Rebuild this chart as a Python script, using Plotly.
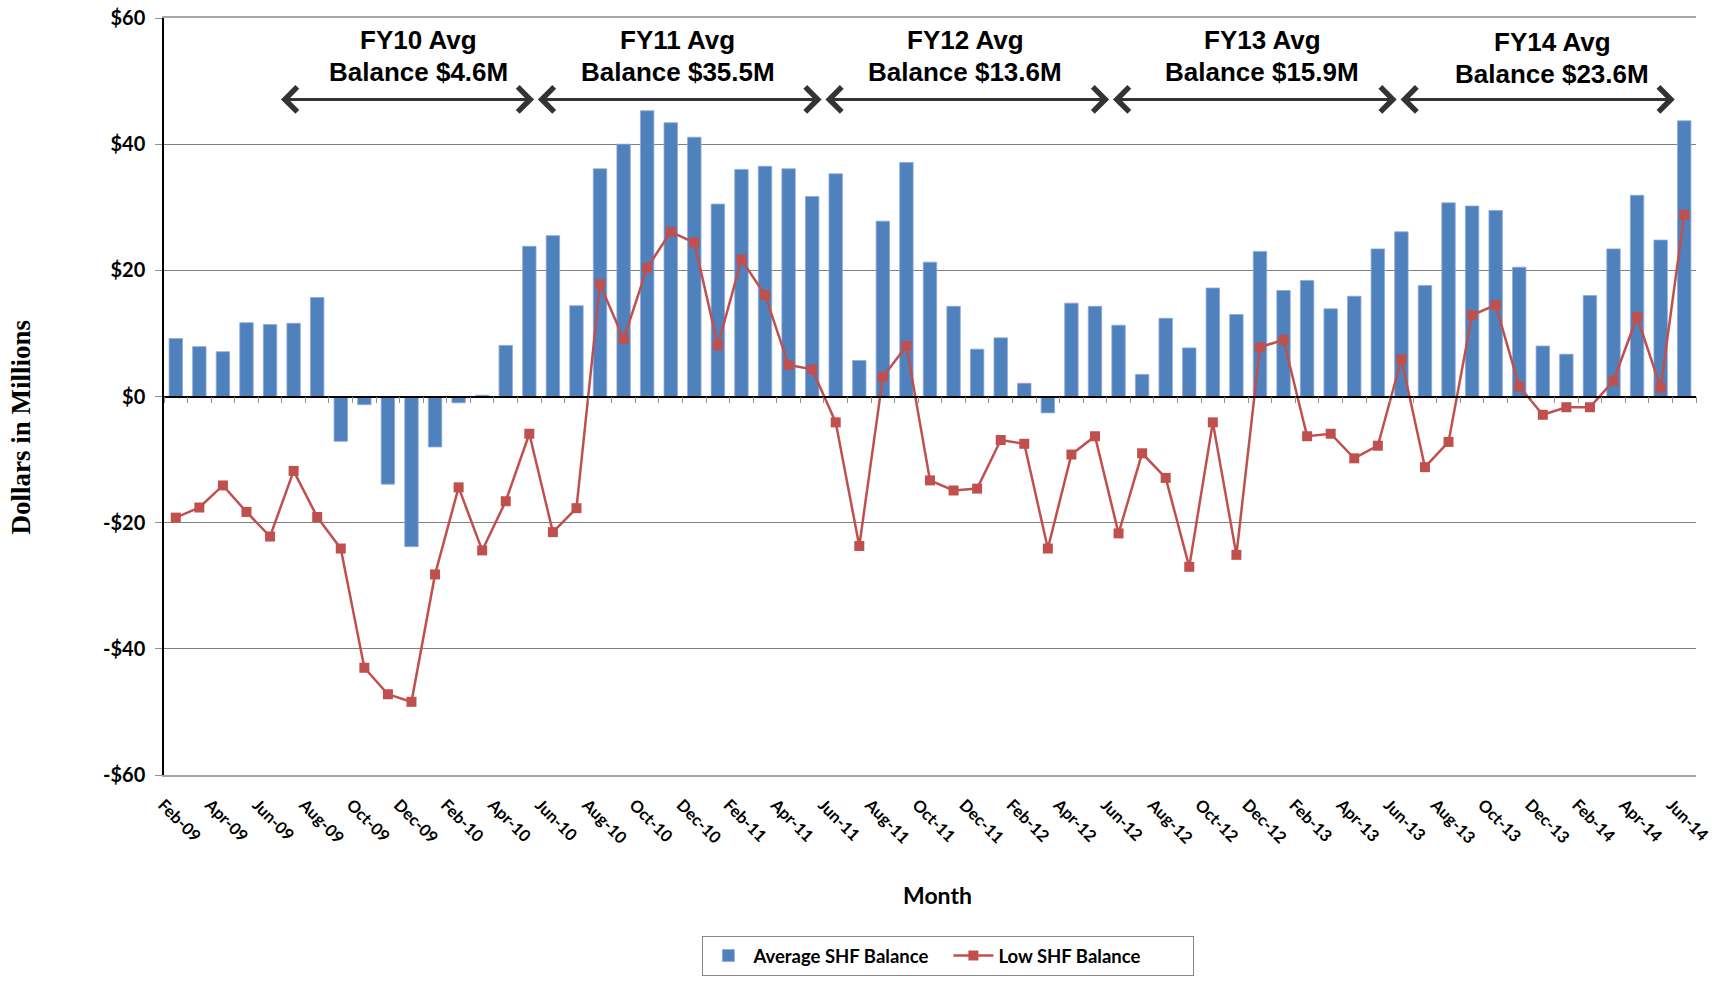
import plotly.graph_objects as go

months = ["Feb-09","Mar-09","Apr-09","May-09","Jun-09","Jul-09","Aug-09","Sep-09","Oct-09","Nov-09","Dec-09",
          "Jan-10","Feb-10","Mar-10","Apr-10","May-10","Jun-10","Jul-10","Aug-10","Sep-10","Oct-10","Nov-10","Dec-10",
          "Jan-11","Feb-11","Mar-11","Apr-11","May-11","Jun-11","Jul-11","Aug-11","Sep-11","Oct-11","Nov-11","Dec-11",
          "Jan-12","Feb-12","Mar-12","Apr-12","May-12","Jun-12","Jul-12","Aug-12","Sep-12","Oct-12","Nov-12","Dec-12",
          "Jan-13","Feb-13","Mar-13","Apr-13","May-13","Jun-13","Jul-13","Aug-13","Sep-13","Oct-13","Nov-13","Dec-13",
          "Jan-14","Feb-14","Mar-14","Apr-14","May-14","Jun-14"]

avg_balance = [9.2, 7.9, 7.1, 11.7, 11.4, 11.6, 15.7, -7.1, -1.3, -13.9, -23.8,
               -8.0, -1.0, 0.2, 8.1, 23.8, 25.5, 14.4, 36.1, 40.0, 45.3, 43.4, 41.1,
               30.5, 36.0, 36.5, 36.1, 31.7, 35.3, 5.7, 27.8, 37.1, 21.3, 14.3, 7.5,
               9.3, 2.1, -2.6, 14.8, 14.3, 11.3, 3.5, 12.4, 7.7, 17.2, 13.0, 23.0,
               16.8, 18.4, 13.9, 15.9, 23.4, 26.1, 17.6, 30.7, 30.2, 29.5, 20.5, 8.0,
               6.7, 16.0, 23.4, 31.9, 24.8, 43.7]

low_balance = [-19.2, -17.6, -14.1, -18.3, -22.2, -11.8, -19.1, -24.1, -43.0, -47.2, -48.4,
               -28.2, -14.4, -24.4, -16.6, -5.9, -21.5, -17.7, 17.8, 9.1, 20.4, 26.1, 24.4,
               8.1, 21.7, 16.1, 5.0, 4.3, -4.1, -23.7, 3.1, 8.0, -13.3, -14.9, -14.6,
               -6.9, -7.5, -24.1, -9.2, -6.3, -21.7, -9.0, -12.9, -27.0, -4.1, -25.1, 7.8,
               9.0, -6.3, -5.9, -9.8, -7.8, 5.9, -11.2, -7.2, 12.9, 14.5, 1.6, -2.9,
               -1.7, -1.7, 2.5, 12.6, 1.4, 28.8]

fy_line1 = ["FY10 Avg", "FY11 Avg", "FY12 Avg", "FY13 Avg", "FY14 Avg"]
fy_line2 = ["Balance $4.6M", "Balance $35.5M", "Balance $13.6M", "Balance $15.9M", "Balance $23.6M"]
fy_label_x = [10.3, 21.3, 33.5, 46.1, 58.4]
fy_label_dy = [0, 0, 0, 0, -0.3]
fy_arrow_start = [4.4, 15.3, 27.5, 39.7, 51.9]
fy_arrow_end = [15.2, 27.4, 39.6, 51.8, 63.6]

y_ticks = [-60, -40, -20, 0, 20, 40, 60]
y_ticktext = ["-$60", "-$40", "-$20", "$0", "$20", "$40", "$60"]

idx = list(range(len(months)))

CAL = "Lato, Carlito, Calibri, sans-serif"
SANS = "Liberation Sans, Arial, sans-serif"

fig = go.Figure()
fig.add_trace(go.Bar(x=idx, y=avg_balance, name="Average SHF Balance",
                     marker=dict(color="#4F81BD", line=dict(color="#8EAADB", width=0.8)),
                     xaxis="x", yaxis="y"))
fig.add_trace(go.Scatter(x=idx, y=low_balance, name="Low SHF Balance", mode="lines+markers",
                         line=dict(color="#C0504D", width=2.5),
                         marker=dict(symbol="square", size=10, color="#C0504D"),
                         xaxis="x2", yaxis="y"))

for l1, l2, lx, dy, a0, a1 in zip(fy_line1, fy_line2, fy_label_x, fy_label_dy, fy_arrow_start, fy_arrow_end):
    fig.add_annotation(x=lx, y=56.5 + dy, xref="x", yref="y", text=l1, showarrow=False,
                       font=dict(family=SANS, size=26, color="black", weight="bold"),
                       xanchor="center", yanchor="middle")
    fig.add_annotation(x=lx, y=51.5 + dy, xref="x", yref="y", text=l2, showarrow=False,
                       font=dict(family=SANS, size=26, color="black", weight="bold"),
                       xanchor="center", yanchor="middle")
    fig.add_annotation(x=a1, y=47.1, ax=a0, ay=47.1, xref="x", yref="y", axref="x", ayref="y",
                       text="", showarrow=True, arrowhead=4, startarrowhead=4,
                       arrowside="end+start", arrowwidth=3, arrowsize=1.6, startarrowsize=1.6,
                       arrowcolor="#333333", standoff=0, startstandoff=0)

fig.add_annotation(x=0.5046, y=-0.1585, xref="paper", yref="paper", text="Month", showarrow=False,
                   font=dict(family=CAL, size=23, color="black", weight="bold"),
                   xanchor="center", yanchor="middle")
fig.add_annotation(x=-0.0935, y=0.46, xref="paper", yref="paper", text="Dollars in Millions",
                   showarrow=False, textangle=-90,
                   font=dict(family="Liberation Serif, Times New Roman, serif", size=27, color="black", weight="bold"),
                   xanchor="center", yanchor="middle")

fig.update_layout(
    width=1716, height=982,
    margin=dict(l=164, r=20, t=18, b=207, autoexpand=False),
    paper_bgcolor="white", plot_bgcolor="white",
    bargap=0.43,
    showlegend=True,
    legend=dict(orientation="h", x=0.512, y=-0.2127, xanchor="center", yanchor="top",
                bordercolor="#888888", borderwidth=1, bgcolor="white",
                font=dict(family=CAL, size=18.5, color="black", weight="bold"),
                entrywidth=190, itemwidth=40),
    xaxis=dict(range=[-0.5, 64.5], tickmode="array", tickvals=idx[::2], ticktext=months[::2],
               tickangle=45, showgrid=False, zeroline=False,
               showline=True, mirror=True, linecolor="#A6A6A6", linewidth=1.5,
               ticks="", ticklabelstandoff=12, ticklabelshift=-13, ticklabeloverflow="allow",
               automargin=False,
               tickfont=dict(family=CAL, size=16.5, color="black", weight="bold")),
    xaxis2=dict(range=[-0.5, 64.5], overlaying="x", anchor="free", position=0.5,
                showline=True, linecolor="black", linewidth=1.5, automargin=False,
                tickmode="linear", tick0=-0.5, dtick=1, ticks="outside", ticklen=6,
                tickcolor="#909090", showticklabels=False, showgrid=False, zeroline=False),
    yaxis=dict(range=[-60, 60], tickmode="array", tickvals=y_ticks, ticktext=y_ticktext,
               showgrid=True, gridcolor="#808080", gridwidth=1, zeroline=False,
               showline=True, linecolor="black", linewidth=1.5, automargin=False,
               ticks="outside", ticklen=7, tickcolor="#909090", ticklabelstandoff=6,
               ticklabeloverflow="allow",
               tickfont=dict(family=CAL, size=20, color="black", weight="bold")),
)

# remove the browser's default 8px body margin so the figure fills the window exactly
fig.write_html("out.html", config={"displayModeBar": False},
               post_script="document.body.style.margin='0';document.body.style.overflow='hidden';")
